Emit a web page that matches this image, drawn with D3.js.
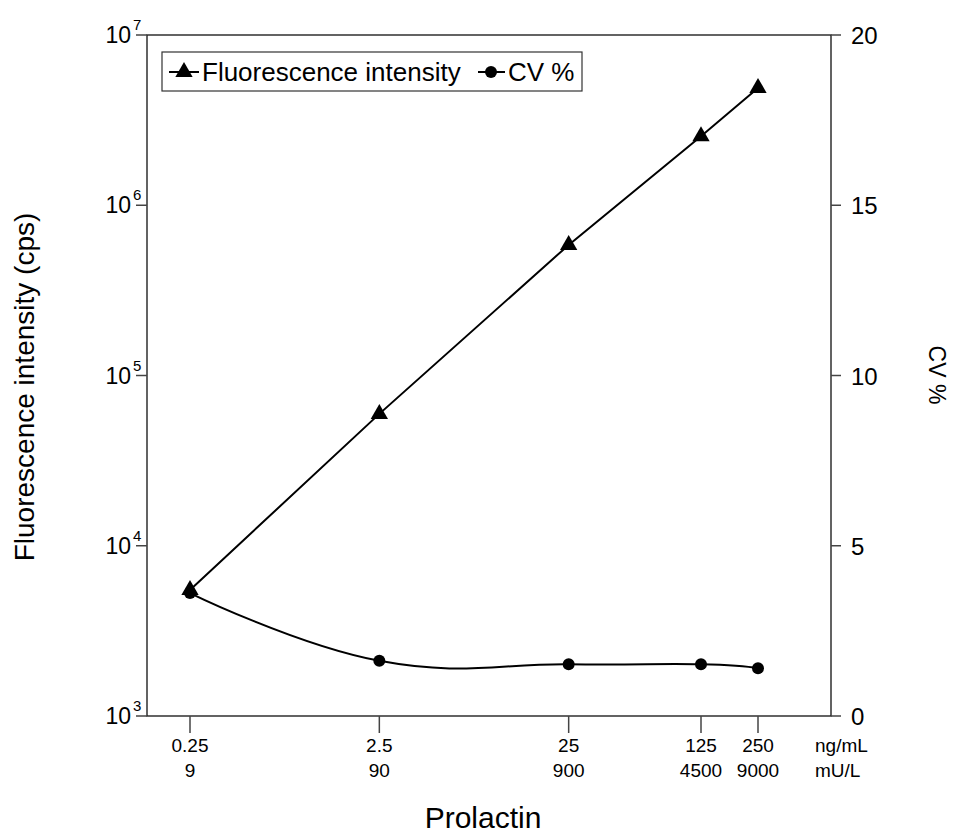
<!DOCTYPE html>
<html>
<head>
<meta charset="utf-8">
<script src="https://cdn.jsdelivr.net/npm/d3@7"></script>
<style>
  html, body { margin: 0; padding: 0; background: #fff; }
  text { font-family: "Liberation Sans", Arial, Helvetica, sans-serif; fill: #000; }
</style>
</head>
<body>
<svg id="chart" width="953" height="834"></svg>
<script>
// ---- data ----
const concNg = [0.25, 2.5, 25, 125, 250];
const concMU = ["9", "90", "900", "4500", "9000"];
const concNgLabels = ["0.25", "2.5", "25", "125", "250"];
const fluorescence = [5500, 59500, 585000, 2540000, 4890000];
const cvPercent = [3.61, 1.62, 1.52, 1.52, 1.40];
const leftTickExps = [3, 4, 5, 6, 7];
const rightTicks = [0, 5, 10, 15, 20];
const seriesNames = ["Fluorescence intensity", "CV %"];

// ---- layout ----
const frame = { left: 147, right: 831, top: 35, bottom: 716 };
const svg = d3.select("#chart");

const x = d3.scaleLog().domain([0.25, 250]).range([190, 758]);
const yL = d3.scaleLog().domain([1e3, 1e7]).range([frame.bottom, frame.top]);
const yR = d3.scaleLinear().domain([0, 20]).range([frame.bottom, frame.top]);

// frame
svg.append("rect")
  .attr("x", frame.left).attr("y", frame.top)
  .attr("width", frame.right - frame.left).attr("height", frame.bottom - frame.top)
  .attr("fill", "none").attr("stroke", "#222").attr("stroke-width", 1.4);

// left axis ticks
const gL = svg.append("g");
leftTickExps.forEach(e => {
  const yy = yL(Math.pow(10, e));
  gL.append("line").attr("x1", frame.left - 11).attr("x2", frame.left)
    .attr("y1", yy).attr("y2", yy).attr("stroke", "#444").attr("stroke-width", 1.5);
  gL.append("text").attr("x", 131).attr("y", yy + 8)
    .attr("text-anchor", "end").style("font-size", "23px").text("10");
  gL.append("text").attr("x", 133).attr("y", yy - 5)
    .style("font-size", "15px").text(String(e));
});

// right axis ticks
const gR = svg.append("g");
rightTicks.forEach(v => {
  const yy = yR(v);
  gR.append("line").attr("x1", frame.right).attr("x2", frame.right + 10)
    .attr("y1", yy).attr("y2", yy).attr("stroke", "#444").attr("stroke-width", 1.5);
  gR.append("text").attr("x", 851).attr("y", yy + 9)
    .style("font-size", "24px").text(v);
});

// bottom ticks
const gB = svg.append("g");
concNg.forEach((c, i) => {
  const xx = x(c);
  gB.append("line").attr("x1", xx).attr("x2", xx)
    .attr("y1", frame.bottom).attr("y2", frame.bottom + 17)
    .attr("stroke", "#444").attr("stroke-width", 1.5);
  gB.append("text").attr("x", xx).attr("y", 752).attr("text-anchor", "middle")
    .style("font-size", "19px").text(concNgLabels[i]);
  gB.append("text").attr("x", xx).attr("y", 777).attr("text-anchor", "middle")
    .style("font-size", "19px").text(concMU[i]);
});
gB.append("text").attr("x", 815).attr("y", 752).style("font-size", "19px").text("ng/mL");
gB.append("text").attr("x", 815).attr("y", 777).style("font-size", "19px").text("mU/L");

// axis titles
svg.append("text").attr("transform", "translate(34,387) rotate(-90)")
  .attr("text-anchor", "middle").style("font-size", "28px")
  .text("Fluorescence intensity (cps)");
svg.append("text").attr("transform", "translate(929,375) rotate(90)")
  .attr("text-anchor", "middle").style("font-size", "23px").text("CV %");
svg.append("text").attr("x", 483).attr("y", 828).attr("text-anchor", "middle")
  .style("font-size", "30px").text("Prolactin");

// fluorescence line
const lineF = d3.line().x((d, i) => x(concNg[i])).y(d => yL(d));
svg.append("path").datum(fluorescence).attr("d", lineF)
  .attr("fill", "none").attr("stroke", "#000").attr("stroke-width", 2);

// CV curve
const lineC = d3.line().x((d, i) => x(concNg[i])).y(d => yR(d))
  .curve(d3.curveCardinal.tension(-0.3));
svg.append("path").datum(cvPercent).attr("d", lineC)
  .attr("fill", "none").attr("stroke", "#000").attr("stroke-width", 2);

const tri = d3.symbol().type(d3.symbolTriangle).size(130);
svg.selectAll(".tri").data(fluorescence).enter().append("path")
  .attr("transform", (d, i) => `translate(${x(concNg[i])},${yL(d)})`)
  .attr("d", tri).attr("fill", "#000");

svg.selectAll(".dot").data(cvPercent).enter().append("circle")
  .attr("cx", (d, i) => x(concNg[i])).attr("cy", d => yR(d))
  .attr("r", 6).attr("fill", "#000");

// legend
const lg = svg.append("g");
lg.append("rect").attr("x", 162).attr("y", 52).attr("width", 420).attr("height", 39)
  .attr("fill", "#fff").attr("stroke", "#333").attr("stroke-width", 1.2);
lg.append("line").attr("x1", 169).attr("x2", 199).attr("y1", 72).attr("y2", 72)
  .attr("stroke", "#000").attr("stroke-width", 2);
lg.append("path").attr("transform", "translate(184,72)").attr("d", tri).attr("fill", "#000");
lg.append("text").attr("x", 202).attr("y", 81).style("font-size", "26px").text(seriesNames[0]);
lg.append("line").attr("x1", 478).attr("x2", 505).attr("y1", 72).attr("y2", 72)
  .attr("stroke", "#000").attr("stroke-width", 2);
lg.append("circle").attr("cx", 491).attr("cy", 72).attr("r", 6).attr("fill", "#000");
lg.append("text").attr("x", 508).attr("y", 81).style("font-size", "26px").text(seriesNames[1]);
</script>
</body>
</html>
